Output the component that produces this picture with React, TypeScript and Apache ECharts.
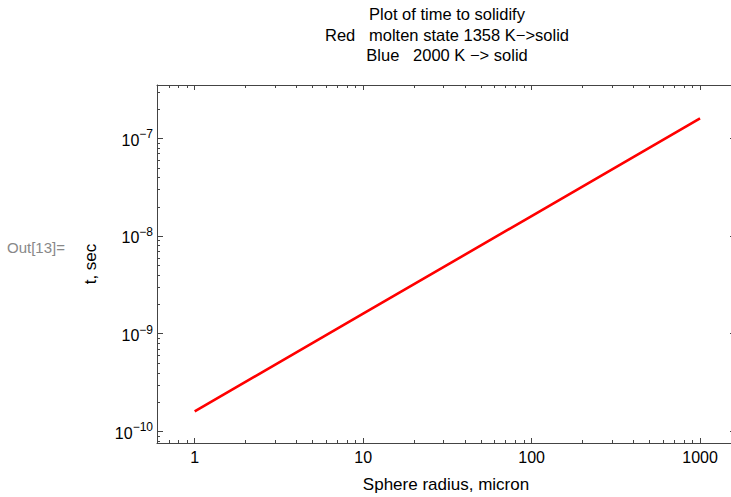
import React, { useEffect, useRef } from "react";
import * as echarts from "echarts";

// Data
const radiusMicron = [1, 10, 100, 1000];
const timeSec = [1.6e-10, 1.6e-9, 1.6e-8, 1.6e-7];

// Axis extents (log10)
const xLogMin = -0.2236;
const xLogMax = 3.2076;
const yLogMin = -10.119;
const yLogMax = -6.455;

// Minor tick values
const xMinorTicks = [0.7, 0.8, 0.9, 2, 3, 4, 5, 6, 7, 8, 9, 20, 30, 40, 50, 60, 70, 80, 90, 200, 300, 400, 500, 600, 700, 800, 900];
const yMinorTicks = [8e-11, 9e-11, 2e-10, 3e-10, 4e-10, 5e-10, 6e-10, 7e-10, 8e-10, 9e-10, 2e-9, 3e-9, 4e-9, 5e-9, 6e-9, 7e-9, 8e-9, 9e-9, 2e-8, 3e-8, 4e-8, 5e-8, 6e-8, 7e-8, 8e-8, 9e-8, 2e-7, 3e-7];

const titleLines = ["Plot of time to solidify", "Red   molten state 1358 K\u2212>solid", "Blue   2000 K \u2212> solid"];

const FONT = "'Liberation Sans', Arial, sans-serif";
const FRAME = "#444";

export default function App() {
  const ref = useRef<HTMLDivElement>(null);
  useEffect(() => {
    if (!ref.current) return;
    const chart = echarts.init(ref.current, null, { renderer: "svg" });
    const xMin = Math.pow(10, xLogMin);
    const xMax = Math.pow(10, xLogMax);
    const yMin = Math.pow(10, yLogMin);
    const yMax = Math.pow(10, yLogMax);

    const isPow = (v: number) => {
      const e = Math.log10(v);
      return Math.abs(e - Math.round(e)) < 1e-6;
    };

    const baseAxis = {
      type: "log" as const,
      logBase: 10,
      axisLine: { show: true, lineStyle: { color: FRAME, width: 1 } },
      axisTick: { show: true, inside: true, length: 5, lineStyle: { color: FRAME, width: 1 } },
      splitLine: { show: false },
      minorTick: { show: false },
    };

    const option: any = {
      animation: false,
      textStyle: { fontFamily: FONT },
      title: {
        text: titleLines.join("\n"),
        left: 447,
        top: 4,
        textAlign: "center",
        padding: 0,
        textStyle: { fontFamily: FONT, fontSize: 16.5, fontWeight: "normal", color: "#000", lineHeight: 20.5 },
      },
      graphic: [
        {
          type: "text",
          left: 7,
          top: 240,
          style: { text: "Out[13]=", fontFamily: FONT, fontSize: 15, fill: "#888" },
        },
      ],
      grid: {
        left: 157,
        top: 85,
        width: 578,
        height: 358,
        containLabel: false,
        outerBoundsMode: "none",
      },
      xAxis: [
        {
          ...baseAxis,
          position: "bottom",
          min: xMin,
          max: xMax,
          axisLabel: {
            show: true,
            margin: 6,
            fontSize: 16,
            color: "#000",
            fontFamily: FONT,
            formatter: (v: number) => (isPow(v) ? String(Math.round(v)) : ""),
          },
          name: "Sphere radius, micron",
          nameLocation: "middle",
          nameGap: 33,
          nameTextStyle: { fontSize: 17, color: "#000", fontFamily: FONT },
        },
        {
          ...baseAxis,
          position: "top",
          min: xMin,
          max: xMax,
          axisLabel: { show: false },
        },
      ],
      yAxis: [
        {
          ...baseAxis,
          position: "left",
          min: yMin,
          max: yMax,
          axisTick: { show: true, inside: true, length: 6, lineStyle: { color: FRAME, width: 1 } },
          axisLabel: {
            show: true,
            margin: 4,
            color: "#000",
            fontFamily: FONT,
            formatter: (v: number) => {
              if (!isPow(v)) return "";
              const e = Math.round(Math.log10(v));
              return "{b|10}{s|\u2212" + String(-e) + "}";
            },
            rich: {
              b: { fontSize: 16, lineHeight: 20, color: "#000", fontFamily: FONT, padding: [4, 0, 0, 0] },
              s: { fontSize: 12, lineHeight: 12, verticalAlign: "top", color: "#000", fontFamily: FONT },
            },
          },
          name: "t, sec",
          nameLocation: "middle",
          nameGap: 58,
          nameTextStyle: { fontSize: 17, color: "#000", fontFamily: FONT },
        },
        {
          ...baseAxis,
          position: "right",
          min: yMin,
          max: yMax,
          axisLabel: { show: false },
        },
      ],
      series: [
        {
          type: "line",
          data: radiusMicron.map((r, i) => [r, timeSec[i]]),
          xAxisIndex: 0,
          yAxisIndex: 0,
          showSymbol: false,
          symbol: "none",
          lineStyle: { color: "#ff0000", width: 2.6, cap: "butt" },
          silent: true,
        },
        {
          type: "custom",
          xAxisIndex: 0,
          yAxisIndex: 0,
          silent: true,
          clip: false,
          data: xMinorTicks.map((v) => [v, yMin]),
          encode: { x: 0, y: 1 },
          renderItem: (params: any, api: any) => {
            const cs = params.coordSys;
            const p = api.coord([api.value(0), api.value(1)]);
            const x = Math.round(p[0]) + 0.5;
            const bottom = cs.y + cs.height;
            const style = { stroke: FRAME, lineWidth: 1 };
            return {
              type: "group",
              children: [
                { type: "line", shape: { x1: x, y1: bottom, x2: x, y2: bottom - 3 }, style },
                { type: "line", shape: { x1: x, y1: cs.y, x2: x, y2: cs.y + 3 }, style },
              ],
            };
          },
        },
        {
          type: "custom",
          xAxisIndex: 0,
          yAxisIndex: 0,
          silent: true,
          clip: false,
          data: yMinorTicks.map((v) => [xMin, v]),
          encode: { x: 0, y: 1 },
          renderItem: (params: any, api: any) => {
            const cs = params.coordSys;
            const p = api.coord([api.value(0), api.value(1)]);
            const y = Math.round(p[1]) + 0.5;
            const right = cs.x + cs.width;
            const style = { stroke: FRAME, lineWidth: 1 };
            return {
              type: "group",
              children: [
                { type: "line", shape: { x1: cs.x, y1: y, x2: cs.x + 3, y2: y }, style },
                { type: "line", shape: { x1: right, y1: y, x2: right - 3, y2: y }, style },
              ],
            };
          },
        },
      ],
    };
    chart.setOption(option);
    return () => chart.dispose();
  }, []);
  return (
    <div
      ref={ref}
      style={{ position: "fixed", left: 0, top: 0, width: 731, height: 497, background: "#fff" }}
    />
  );
}
